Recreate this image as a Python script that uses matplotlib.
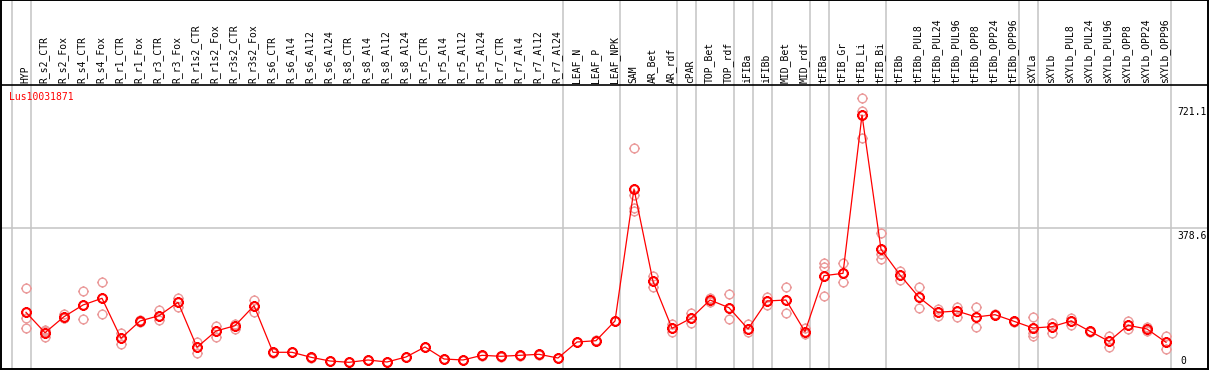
#!/usr/bin/env python
import matplotlib
matplotlib.use("Agg")
import matplotlib.pyplot as plt
from matplotlib.path import Path
import numpy as np

gene = "Lus10031871"

samples = ["HYP",
           "R_s2_CTR", "R_s2_Fox", "R_s4_CTR", "R_s4_Fox", "R_r1_CTR", "R_r1_Fox",
           "R_r3_CTR", "R_r3_Fox", "R_r1s2_CTR", "R_r1s2_Fox", "R_r3s2_CTR", "R_r3s2_Fox",
           "R_s6_CTR", "R_s6_Al4", "R_s6_Al12", "R_s6_Al24", "R_s8_CTR", "R_s8_Al4",
           "R_s8_Al12", "R_s8_Al24", "R_r5_CTR", "R_r5_Al4", "R_r5_Al12", "R_r5_Al24",
           "R_r7_CTR", "R_r7_Al4", "R_r7_Al12", "R_r7_Al24",
           "LEAF_N", "LEAF_P", "LEAF_NPK",
           "SAM", "AR_Bet", "AR_rdf", "cPAR", "TOP_Bet", "TOP_rdf", "iFIBa", "iFIBb",
           "MID_Bet", "MID_rdf", "tFIBa", "tFIB_Gr", "tFIB_Li", "tFIB_Bi",
           "tFIBb", "tFIBb_PUL8", "tFIBb_PUL24", "tFIBb_PUL96", "tFIBb_OPP8",
           "tFIBb_OPP24", "tFIBb_OPP96", "sXYLa",
           "sXYLb", "sXYLb_PUL8", "sXYLb_PUL24", "sXYLb_PUL96", "sXYLb_OPP8",
           "sXYLb_OPP24", "sXYLb_OPP96"]

means = [147.3,
         91.3, 135.2, 167.3, 185.7, 76.0, 123.4, 138.0, 174.7, 51.3, 96.0, 110.5, 165.4,
         37.6, 37.6, 23.9, 13.7, 10.1, 16.5, 11.0, 24.7, 52.1, 19.2, 16.5, 29.3,
         26.6, 29.3, 32.1, 21.9,
         65.8, 69.4, 123.4,
         485.5, 232.3, 103.4, 130.8, 181.0, 159.9, 101.5, 178.3,
         181.0, 94.1, 247.7, 254.2, 688.4, 320.1,
         249.6, 188.4, 147.3, 150.8, 134.4, 140.7, 122.6, 104.2,
         107.8, 123.4, 95.2, 67.7, 111.6, 101.5, 65.0]

replicates = [[213.1, 130.8, 103.4],
              [98.7, 78.7, 96.0], [142.6, 132.5, 130.5], [204.9, 128.1], [229.6, 141.8],
              [91.3, 60.3], [126.0, 121.0], [153.6, 126.2], [187.3, 162.6],
              [65.0, 36.5], [110.5, 78.7], [115.2, 101.5], [181.0, 148.9],
              [38.5, 36.7], [38.0, 37.2], [24.5, 23.3], [14.2, 13.2], [10.5, 9.7],
              [17.0, 16.0], [11.5, 10.5], [25.2, 24.2], [53.0, 51.2], [19.8, 18.6],
              [17.0, 16.0], [30.0, 28.6], [27.2, 26.0], [30.0, 28.6], [32.8, 31.4],
              [22.5, 21.3],
              [66.5, 65.1], [70.0, 68.8], [124.5, 122.3],
              [597.1, 469.0, 434.2, 425.1], [246.8, 217.5], [115.2, 92.4],
              [146.2, 117.1], [185.7, 176.4], [197.5, 128.1], [114.4, 92.4],
              [188.4, 167.3], [215.9, 144.5], [103.4, 87.8],
              [283.3, 270.7, 192.0], [283.3, 231.2], [734.2, 700.2, 624.5],
              [364.0, 307.2, 292.6],
              [261.4, 235.9], [215.9, 158.3], [156.3, 137.1], [162.6, 135.2],
              [161.0, 106.1], [142.0, 139.0], [124.0, 121.0], [134.4, 89.7, 82.3],
              [118.8, 91.3], [131.6, 112.4], [97.0, 93.0], [82.3, 52.9],
              [124.2, 102.3], [107.8, 96.8], [82.3, 45.8]]

# index of the last sample in each group (gray separators after it)
group_ends = [-1, 0, 28, 31, 34, 35, 37, 38, 39, 41, 42, 45, 52, 53, 60]

y_marks = [0, 378.6, 721.1]

# ---- layout (pixels of a 1209x370 image) ----
W, H = 1209, 370
x0_px, step_px = 26.0, 19.0      # x of first sample, spacing
zero_px, px_per_unit = 366.0, 0.3646
header_px = 85
left_px, right_px, top_px, bot_px = 1, 1208, 0, 369

fig = plt.figure(figsize=(W / 100, H / 100), dpi=100)
ax = fig.add_axes([left_px / W, (H - bot_px) / H,
                   (right_px - left_px) / W, (bot_px - top_px) / H])

def px_to_x(px):
    return (px - x0_px) / step_px

def px_to_v(py):
    return (zero_px - py) / px_per_unit

ax.set_xlim(px_to_x(left_px), px_to_x(right_px))
ax.set_ylim(px_to_v(bot_px), px_to_v(top_px))
ax.set_xticks([])
ax.set_yticks([])
for s in ax.spines.values():
    s.set_color("black")
    s.set_linewidth(1.4)

grey = "#c4c4c4"
mono = "DejaVu Sans Mono"

# separators and grid
for g in group_ends:
    ax.axvline(g + 0.24, color=grey, lw=1.1, zorder=1)
ax.axhline(y_marks[1], color=grey, lw=1.1, zorder=1)
ax.axhline(px_to_v(header_px), color="black", lw=1.2, zorder=3)

# circle marker with small ticks
circ = Path.unit_circle()
t = 1.25
ticks = Path([(1, 0), (t, 0), (-1, 0), (-t, 0), (0, 1), (0, t), (0, -1), (0, -t)],
             [Path.MOVETO, Path.LINETO] * 4)
marker = Path.make_compound_path(circ, ticks)

xs = np.arange(len(samples))

# replicates
for i, reps in enumerate(replicates):
    ax.plot([xs[i]] * len(reps), reps, linestyle="none", marker=marker,
            markersize=7.8, markerfacecolor="none", markeredgecolor="#eb9c9c",
            markeredgewidth=1.0, zorder=4)

# means
ax.plot(xs, means, color="#ff0000", lw=0.9, zorder=5)
ax.plot(xs, means, linestyle="none", marker=marker, markersize=7.8,
        markerfacecolor="none", markeredgecolor="#ff0000", markeredgewidth=1.5,
        zorder=6)

# sample labels in the header
lab_y = px_to_v(header_px - 2)
for i, name in enumerate(samples):
    ax.text(xs[i] - 0.05, lab_y, name, rotation=90, ha="center", va="bottom",
            fontsize=7, family=mono, color="black", zorder=7)

# gene name
ax.text(px_to_x(9), px_to_v(97), gene, ha="left", va="center", fontsize=7,
        family=mono, color="#ff0000", zorder=7)

# right value labels
for v in y_marks:
    if v == 0:
        ax.text(px_to_x(1180), v, "0", ha="left", va="bottom", fontsize=7,
                family=mono, color="black", zorder=7)
    else:
        ax.text(px_to_x(1177), v - 3.5 / px_per_unit, "%.1f" % v,
                ha="left", va="top", fontsize=7, family=mono, color="black",
                zorder=7, clip_on=True)

fig.savefig("out.png", dpi=100)
